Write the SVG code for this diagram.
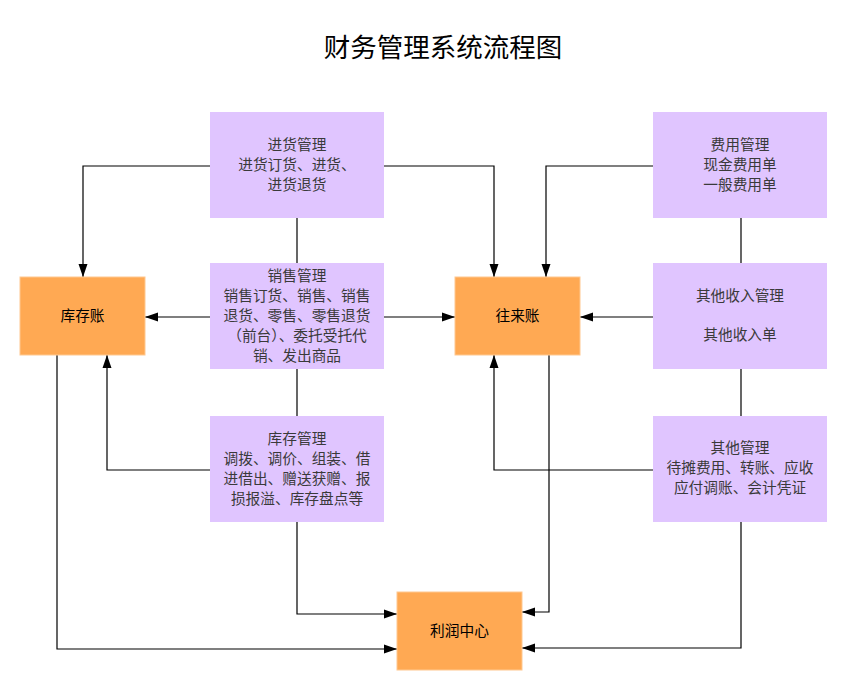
<svg xmlns="http://www.w3.org/2000/svg" width="847" height="690" viewBox="0 0 847 690">
<style>
.p{fill:#E0C5FF;}
.o{fill:#FFA953;stroke:#FFC890;stroke-width:1;}
.t{font-family:"Noto Sans CJK SC","Liberation Sans",sans-serif;font-size:14.7px;text-anchor:middle;fill:#3a3a3a;}
.k{font-family:"Noto Sans CJK SC","Liberation Sans",sans-serif;font-size:14.7px;text-anchor:middle;fill:#000;}
.title{font-family:"Noto Sans CJK SC","Liberation Sans",sans-serif;font-size:26.5px;text-anchor:middle;fill:#000;}
.c{fill:none;stroke:#000;stroke-width:1.2;}
</style>
<defs>
<marker id="a" viewBox="0 0 13 10" refX="13" refY="5" markerWidth="13" markerHeight="10" markerUnits="userSpaceOnUse" orient="auto">
<path d="M0,0.5 L13,5 L0,9.5 Z" fill="#000"/>
</marker>
</defs>
<rect width="847" height="690" fill="#fff"/>
<text class="title" x="443" y="57">财务管理系统流程图</text>

<g id="connectors">
<path class="c" d="M210,166 H83 V277" marker-end="url(#a)"/>
<path class="c" d="M384,166 H494 V277" marker-end="url(#a)"/>
<path class="c" d="M653,166 H546 V277" marker-end="url(#a)"/>
<path class="c" d="M297,218 V263"/>
<path class="c" d="M297,369 V416"/>
<path class="c" d="M741,218 V263"/>
<path class="c" d="M741,369 V416"/>
<path class="c" d="M210,317 H145" marker-end="url(#a)"/>
<path class="c" d="M384,317 H455" marker-end="url(#a)"/>
<path class="c" d="M653,317 H580" marker-end="url(#a)"/>
<path class="c" d="M210,470 H107 V355" marker-end="url(#a)"/>
<path class="c" d="M653,470 H494 V355" marker-end="url(#a)"/>
<path class="c" d="M549,355 V612 H522" marker-end="url(#a)"/>
<path class="c" d="M297,522 V614 H397" marker-end="url(#a)"/>
<path class="c" d="M57,355 V649 H397" marker-end="url(#a)"/>
<path class="c" d="M741,522 V648 H522" marker-end="url(#a)"/>
</g>

<g id="jinhuo">
<rect class="p" x="210" y="112" width="174" height="106"/>
<text class="t" x="297" y="150">进货管理</text>
<text class="t" x="297" y="170">进货订货、进货、</text>
<text class="t" x="297" y="190">进货退货</text>
</g>
<g id="xiaoshou">
<rect class="p" x="210" y="263" width="174" height="106"/>
<text class="t" x="297" y="281">销售管理</text>
<text class="t" x="297" y="301">销售订货、销售、销售</text>
<text class="t" x="297" y="321">退货、零售、零售退货</text>
<text class="t" x="297" y="341">（前台）、委托受托代</text>
<text class="t" x="297" y="361">销、发出商品</text>
</g>
<g id="kucunguanli">
<rect class="p" x="210" y="416" width="174" height="106"/>
<text class="t" x="297" y="444">库存管理</text>
<text class="t" x="297" y="464">调拨、调价、组装、借</text>
<text class="t" x="297" y="484">进借出、赠送获赠、报</text>
<text class="t" x="297" y="504">损报溢、库存盘点等</text>
</g>
<g id="feiyong">
<rect class="p" x="653" y="112" width="174" height="106"/>
<text class="t" x="740" y="150">费用管理</text>
<text class="t" x="740" y="170">现金费用单</text>
<text class="t" x="740" y="190">一般费用单</text>
</g>
<g id="qitashouru">
<rect class="p" x="653" y="263" width="174" height="106"/>
<text class="t" x="740" y="301">其他收入管理</text>
<text class="t" x="740" y="340">其他收入单</text>
</g>
<g id="qitaguanli">
<rect class="p" x="653" y="416" width="174" height="106"/>
<text class="t" x="740" y="453">其他管理</text>
<text class="t" x="740" y="473">待摊费用、转账、应收</text>
<text class="t" x="740" y="493">应付调账、会计凭证</text>
</g>
<g id="kucunzhang">
<rect class="o" x="20" y="277" width="125" height="78"/>
<text class="k" x="82.5" y="321">库存账</text>
</g>
<g id="wanglaizhang">
<rect class="o" x="455" y="277" width="125" height="78"/>
<text class="k" x="517.5" y="321">往来账</text>
</g>
<g id="lirun">
<rect class="o" x="397" y="592" width="125" height="78"/>
<text class="k" x="459.5" y="636">利润中心</text>
</g>
</svg>
